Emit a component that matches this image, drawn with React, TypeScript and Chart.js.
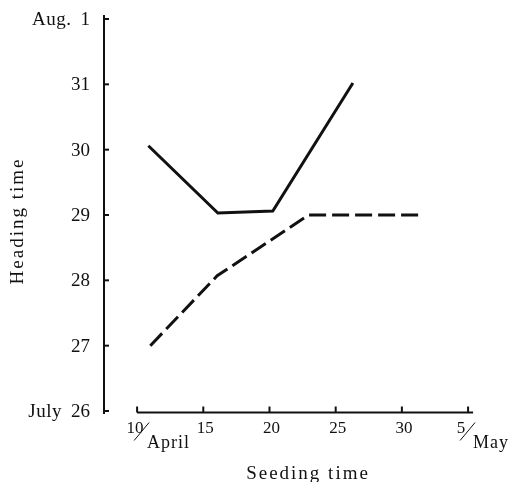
import React, { useEffect, useRef } from "react";
import { Chart, registerables } from "chart.js";

Chart.register(...registerables);

// ---- data ----
const xTickValues = [10, 15, 20, 25, 30, 35]; // days counted from April 1 (35 = May 5)
const xTickLabels = ["10/April", "15", "20", "25", "30", "5/May"];
const yTickValues = [26, 27, 28, 29, 30, 31, 32]; // days counted in July (32 = Aug 1)
const yTickLabels = ["July 26", "27", "28", "29", "30", "31", "Aug. 1"];

const seedingSolid = [10.85, 16.1, 20.25, 26.3];
const headingSolid = [30.06, 29.03, 29.06, 31.02];
const seedingDashed = [11.0, 16.05, 22.95, 31.6];
const headingDashed = [27.0, 28.07, 29.0, 29.0];

const xTitle = "Seeding time";
const yTitle = "Heading time";

// ---- style / layout ----
const INK = "#111111";
const FONT = "'Liberation Serif', 'Times New Roman', serif";
const fracShift: Record<number, number> = { 0: -2, 5: -7 };

const axesPlugin = {
  id: "handAxes",
  afterDraw(chart: any) {
    const ctx: CanvasRenderingContext2D = chart.ctx;
    const xs = chart.scales.x;
    const ys = chart.scales.y;
    const area = chart.chartArea;
    ctx.save();
    ctx.strokeStyle = INK;
    ctx.fillStyle = INK;
    ctx.lineWidth = 2;
    ctx.lineCap = "butt";

    // Y axis
    const ax = area.left;
    ctx.beginPath();
    ctx.moveTo(ax, ys.getPixelForValue(yTickValues[yTickValues.length - 1]) - 4);
    ctx.lineTo(ax, ys.getPixelForValue(yTickValues[0]) + 3);
    ctx.stroke();
    yTickValues.forEach((v, i) => {
      const py = ys.getPixelForValue(v);
      ctx.beginPath();
      ctx.moveTo(ax - 1, py);
      ctx.lineTo(ax + 5, py);
      ctx.stroke();
      const label = yTickLabels[i];
      const sp = label.lastIndexOf(" ");
      const num = sp >= 0 ? label.slice(sp + 1) : label;
      const pre = sp >= 0 ? label.slice(0, sp) : "";
      ctx.font = `19px ${FONT}`;
      ctx.textAlign = "right";
      ctx.textBaseline = "middle";
      ctx.fillText(num, ax - 14, py + 1);
      if (pre) {
        const w = ctx.measureText(num).width;
        (ctx as any).letterSpacing = "0.5px";
        ctx.fillText(pre, ax - 14 - w - 9, py + 1);
        (ctx as any).letterSpacing = "0px";
      }
    });

    // X axis
    const ay = ys.getPixelForValue(yTickValues[0]) + 1.5;
    const x0 = xs.getPixelForValue(xTickValues[0]);
    const x1 = xs.getPixelForValue(xTickValues[xTickValues.length - 1]);
    ctx.beginPath();
    ctx.moveTo(x0, ay);
    ctx.lineTo(x1 + 5, ay);
    ctx.stroke();
    xTickValues.forEach((v, i) => {
      const px = xs.getPixelForValue(v);
      ctx.beginPath();
      ctx.moveTo(px, ay);
      ctx.lineTo(px, ay - 6);
      ctx.stroke();
      const label = xTickLabels[i];
      ctx.font = `17px ${FONT}`;
      ctx.textBaseline = "alphabetic";
      if (label.includes("/")) {
        const [num, month] = label.split("/");
        const s = fracShift[i] ?? 0;
        ctx.textAlign = "center";
        ctx.fillText(num, px + s, ay + 20);
        ctx.lineWidth = 1;
        ctx.beginPath();
        ctx.moveTo(px + s - 1, ay + 28);
        ctx.lineTo(px + s + 14, ay + 10);
        ctx.stroke();
        ctx.lineWidth = 2;
        ctx.textAlign = "left";
        ctx.font = `18px ${FONT}`;
        (ctx as any).letterSpacing = "1px";
        ctx.fillText(month, px + s + 12, ay + 35);
        (ctx as any).letterSpacing = "0px";
      } else {
        ctx.textAlign = "center";
        ctx.fillText(label, px + 2, ay + 20);
      }
    });

    // Titles
    ctx.font = `19px ${FONT}`;
    (ctx as any).letterSpacing = "2px";
    ctx.textAlign = "center";
    ctx.textBaseline = "alphabetic";
    ctx.fillText(xTitle, 308, ay + 66);
    ctx.save();
    ctx.translate(23, 221);
    ctx.rotate(-Math.PI / 2);
    ctx.fillText(yTitle, 0, 0);
    ctx.restore();
    (ctx as any).letterSpacing = "0px";
    ctx.restore();
  },
};

export default function App() {
  const ref = useRef<HTMLCanvasElement | null>(null);
  useEffect(() => {
    if (!ref.current) return;
    const chart = new Chart(ref.current, {
      type: "line",
      data: {
        datasets: [
          {
            label: "solid",
            data: seedingSolid.map((x, i) => ({ x, y: headingSolid[i] })),
            borderColor: INK,
            borderWidth: 3,
            pointRadius: 0,
            tension: 0,
            fill: false,
            clip: false as any,
          },
          {
            label: "dashed",
            data: seedingDashed.map((x, i) => ({ x, y: headingDashed[i] })),
            borderColor: INK,
            borderWidth: 3,
            borderDash: [17, 6],
            pointRadius: 0,
            tension: 0,
            fill: false,
            clip: false as any,
          },
        ],
      },
      options: {
        animation: false,
        responsive: false,
        devicePixelRatio: 1,
        layout: { padding: { left: 104, right: 49.3, top: 19, bottom: 71 } },
        plugins: { legend: { display: false }, tooltip: { enabled: false } },
        scales: {
          x: { type: "linear", min: 7.5, max: 35.5, display: false },
          y: { type: "linear", min: 26, max: 32, display: false },
        },
      },
      plugins: [axesPlugin],
    });
    return () => chart.destroy();
  }, []);
  return (
    <div style={{ position: "absolute", left: 0, top: 0, width: 524, height: 482, background: "#fff" }}>
      <canvas ref={ref} width={524} height={482} style={{ display: "block" }} />
    </div>
  );
}
